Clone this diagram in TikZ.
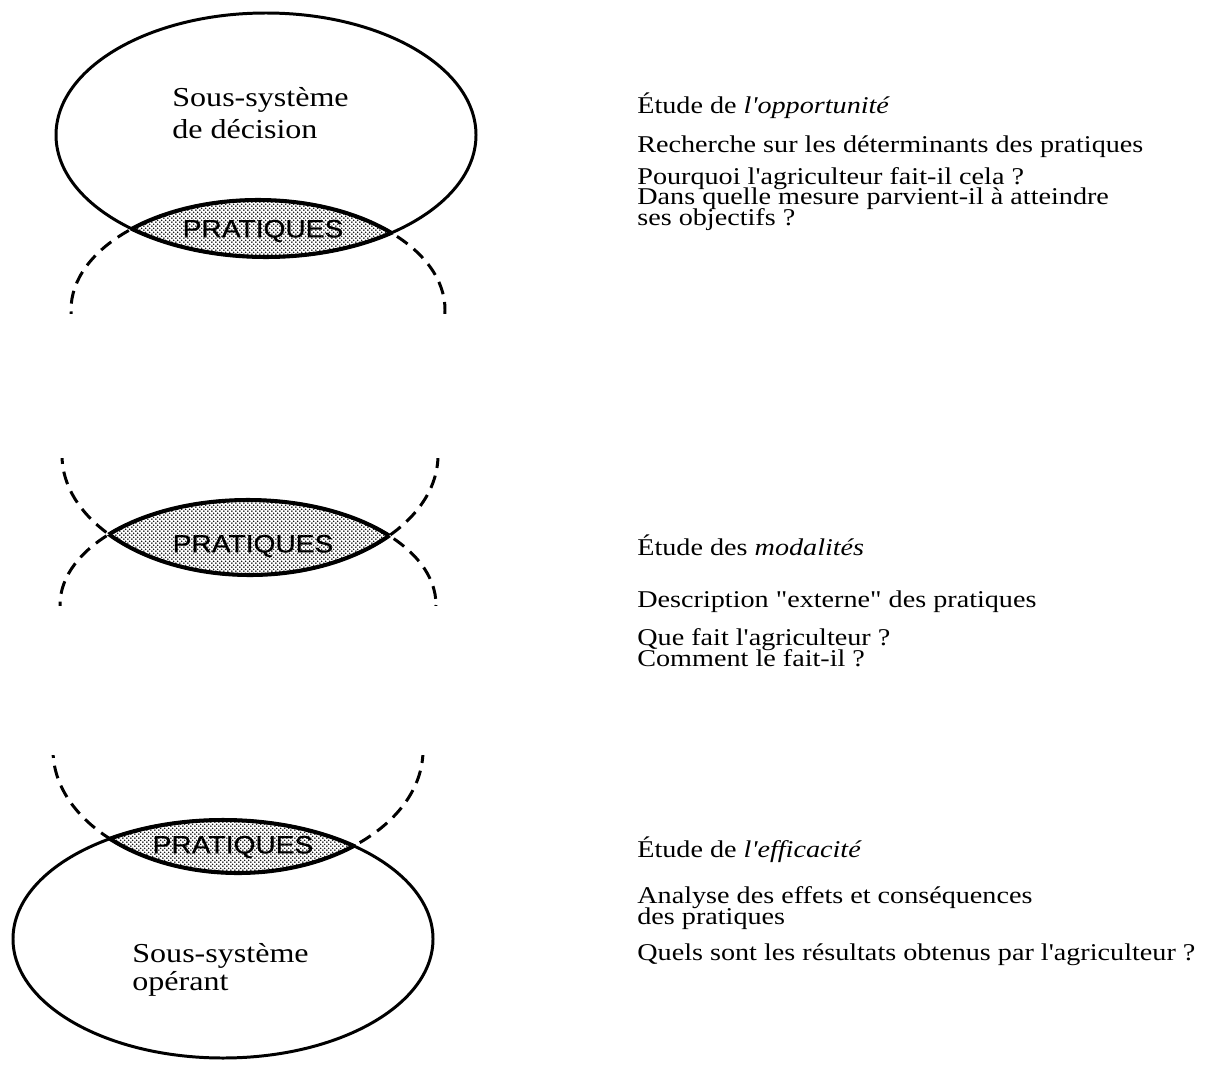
\documentclass[tikz,border=0pt]{standalone}
\usepackage{fontspec}
\setmainfont[FakeStretch=1.17,Ligatures=TeXOff]{Liberation Serif}
\newfontfamily\pratfont[FakeStretch=1.12,FakeBold=0.6]{Liberation Sans}
\usetikzlibrary{patterns}

% screen of fine dots for the practices
\pgfdeclarepatternformonly{screen}{\pgfpointorigin}{\pgfqpoint{2.4pt}{2.4pt}}%
  {\pgfqpoint{2.4pt}{2.4pt}}{%
  \pgfpathcircle{\pgfqpoint{0.6pt}{0.6pt}}{0.55pt}%
  \pgfpathcircle{\pgfqpoint{1.8pt}{1.8pt}}{0.55pt}%
  \pgfusepath{fill}}

\begin{document}
\begin{tikzpicture}[
    x=0.02cm, y=-0.02cm,
    sys/.style={draw,line width=1.7pt},
    half/.style={draw,line width=1.7pt,dash pattern=on 7.4pt off 4.5pt},
    lens/.style={draw,line width=2.3pt},
    dots/.style={pattern=screen},
    prat/.style={font=\pratfont\fontsize{14.3}{16}\selectfont,inner sep=0pt},
    syslabel/.style={anchor=base west,inner sep=0pt,font=\fontsize{15.6}{18}\selectfont},
    note/.style={anchor=base west,inner sep=0pt,align=left,
      font={\fontsize{13.7}{11.4}\selectfont\lineskiplimit=-20pt}}
]
\useasboundingbox (0,0) rectangle (1209,1064);

% --- decision sub-system (top)
\begin{scope}
  \clip (0,0) rectangle (1209,313);
  \draw[half] (258,310) ellipse [x radius=187, y radius=110];
\end{scope}
\begin{scope}
  \clip (266,135) ellipse [x radius=210, y radius=122];
  \fill[dots] (258,310) ellipse [x radius=187, y radius=110];
  \draw[lens] (258,310) ellipse [x radius=187, y radius=110];
\end{scope}
\begin{scope}
  \clip (258,310) ellipse [x radius=187, y radius=110];
  \draw[lens] (266,135) ellipse [x radius=210, y radius=122];
\end{scope}
\draw[sys] (266,135) ellipse [x radius=210, y radius=122];
\node[prat] (prat1) at (263,231) {PRATIQUES};
\node[syslabel] (dec1) at (172,107) {Sous-système};
\node[syslabel] (dec2) at (172,139) {de décision};

% --- modalities (middle)
\begin{scope}
  \clip (0,458) rectangle (1209,1064);
  \draw[half] (250,455) ellipse [x radius=188, y radius=120];
\end{scope}
\begin{scope}
  \clip (0,0) rectangle (1209,605);
  \draw[half] (248,605) ellipse [x radius=188, y radius=105];
\end{scope}
\begin{scope}
  \clip (250,455) ellipse [x radius=188, y radius=120];
  \fill[dots] (248,605) ellipse [x radius=188, y radius=105];
  \draw[lens] (248,605) ellipse [x radius=188, y radius=105];
\end{scope}
\begin{scope}
  \clip (248,605) ellipse [x radius=188, y radius=105];
  \draw[lens] (250,455) ellipse [x radius=188, y radius=120];
\end{scope}
\node[prat] (prat2) at (253,546) {PRATIQUES};

% --- operating sub-system (bottom)
\begin{scope}
  \clip (0,755) rectangle (1209,1064);
  \draw[half] (238,750) ellipse [x radius=185, y radius=123];
\end{scope}
\begin{scope}
  \clip (223,939) ellipse [x radius=210, y radius=119];
  \fill[dots] (238,750) ellipse [x radius=185, y radius=123];
  \draw[lens] (238,750) ellipse [x radius=185, y radius=123];
\end{scope}
\begin{scope}
  \clip (238,750) ellipse [x radius=185, y radius=123];
  \draw[lens] (223,939) ellipse [x radius=210, y radius=119];
\end{scope}
\draw[sys] (223,939) ellipse [x radius=210, y radius=119];
\node[prat] (prat3) at (233,847) {PRATIQUES};
\node[syslabel] (op1) at (132,962) {Sous-système};
\node[syslabel] (op2) at (132,990) {opérant};

% --- notes on the right (base = last line)
\node[note] (opp) at (637,114) {Étude de \textit{l'opportunité}};
\node[note] (opp1) at (637,153) {Recherche sur les déterminants des pratiques};
\node[note] (opp2) at (637,225) {Pourquoi l'agriculteur fait-il cela ?\\
  Dans quelle mesure parvient-il à atteindre\\ses objectifs ?};

\node[note] (mod) at (637,555) {Étude des \textit{modalités}};
\node[note] (mod1) at (637,607) {Description "externe" des pratiques};
\node[note] (mod2) at (637,666) {Que fait l'agriculteur ?\\Comment le fait-il ?};

\node[note] (eff) at (637,857) {Étude de \textit{l'efficacité}};
\node[note] (eff1) at (637,924) {Analyse des effets et conséquences\\des pratiques};
\node[note] (eff3) at (637,960) {Quels sont les résultats obtenus par l'agriculteur ?};
\end{tikzpicture}
\end{document}
